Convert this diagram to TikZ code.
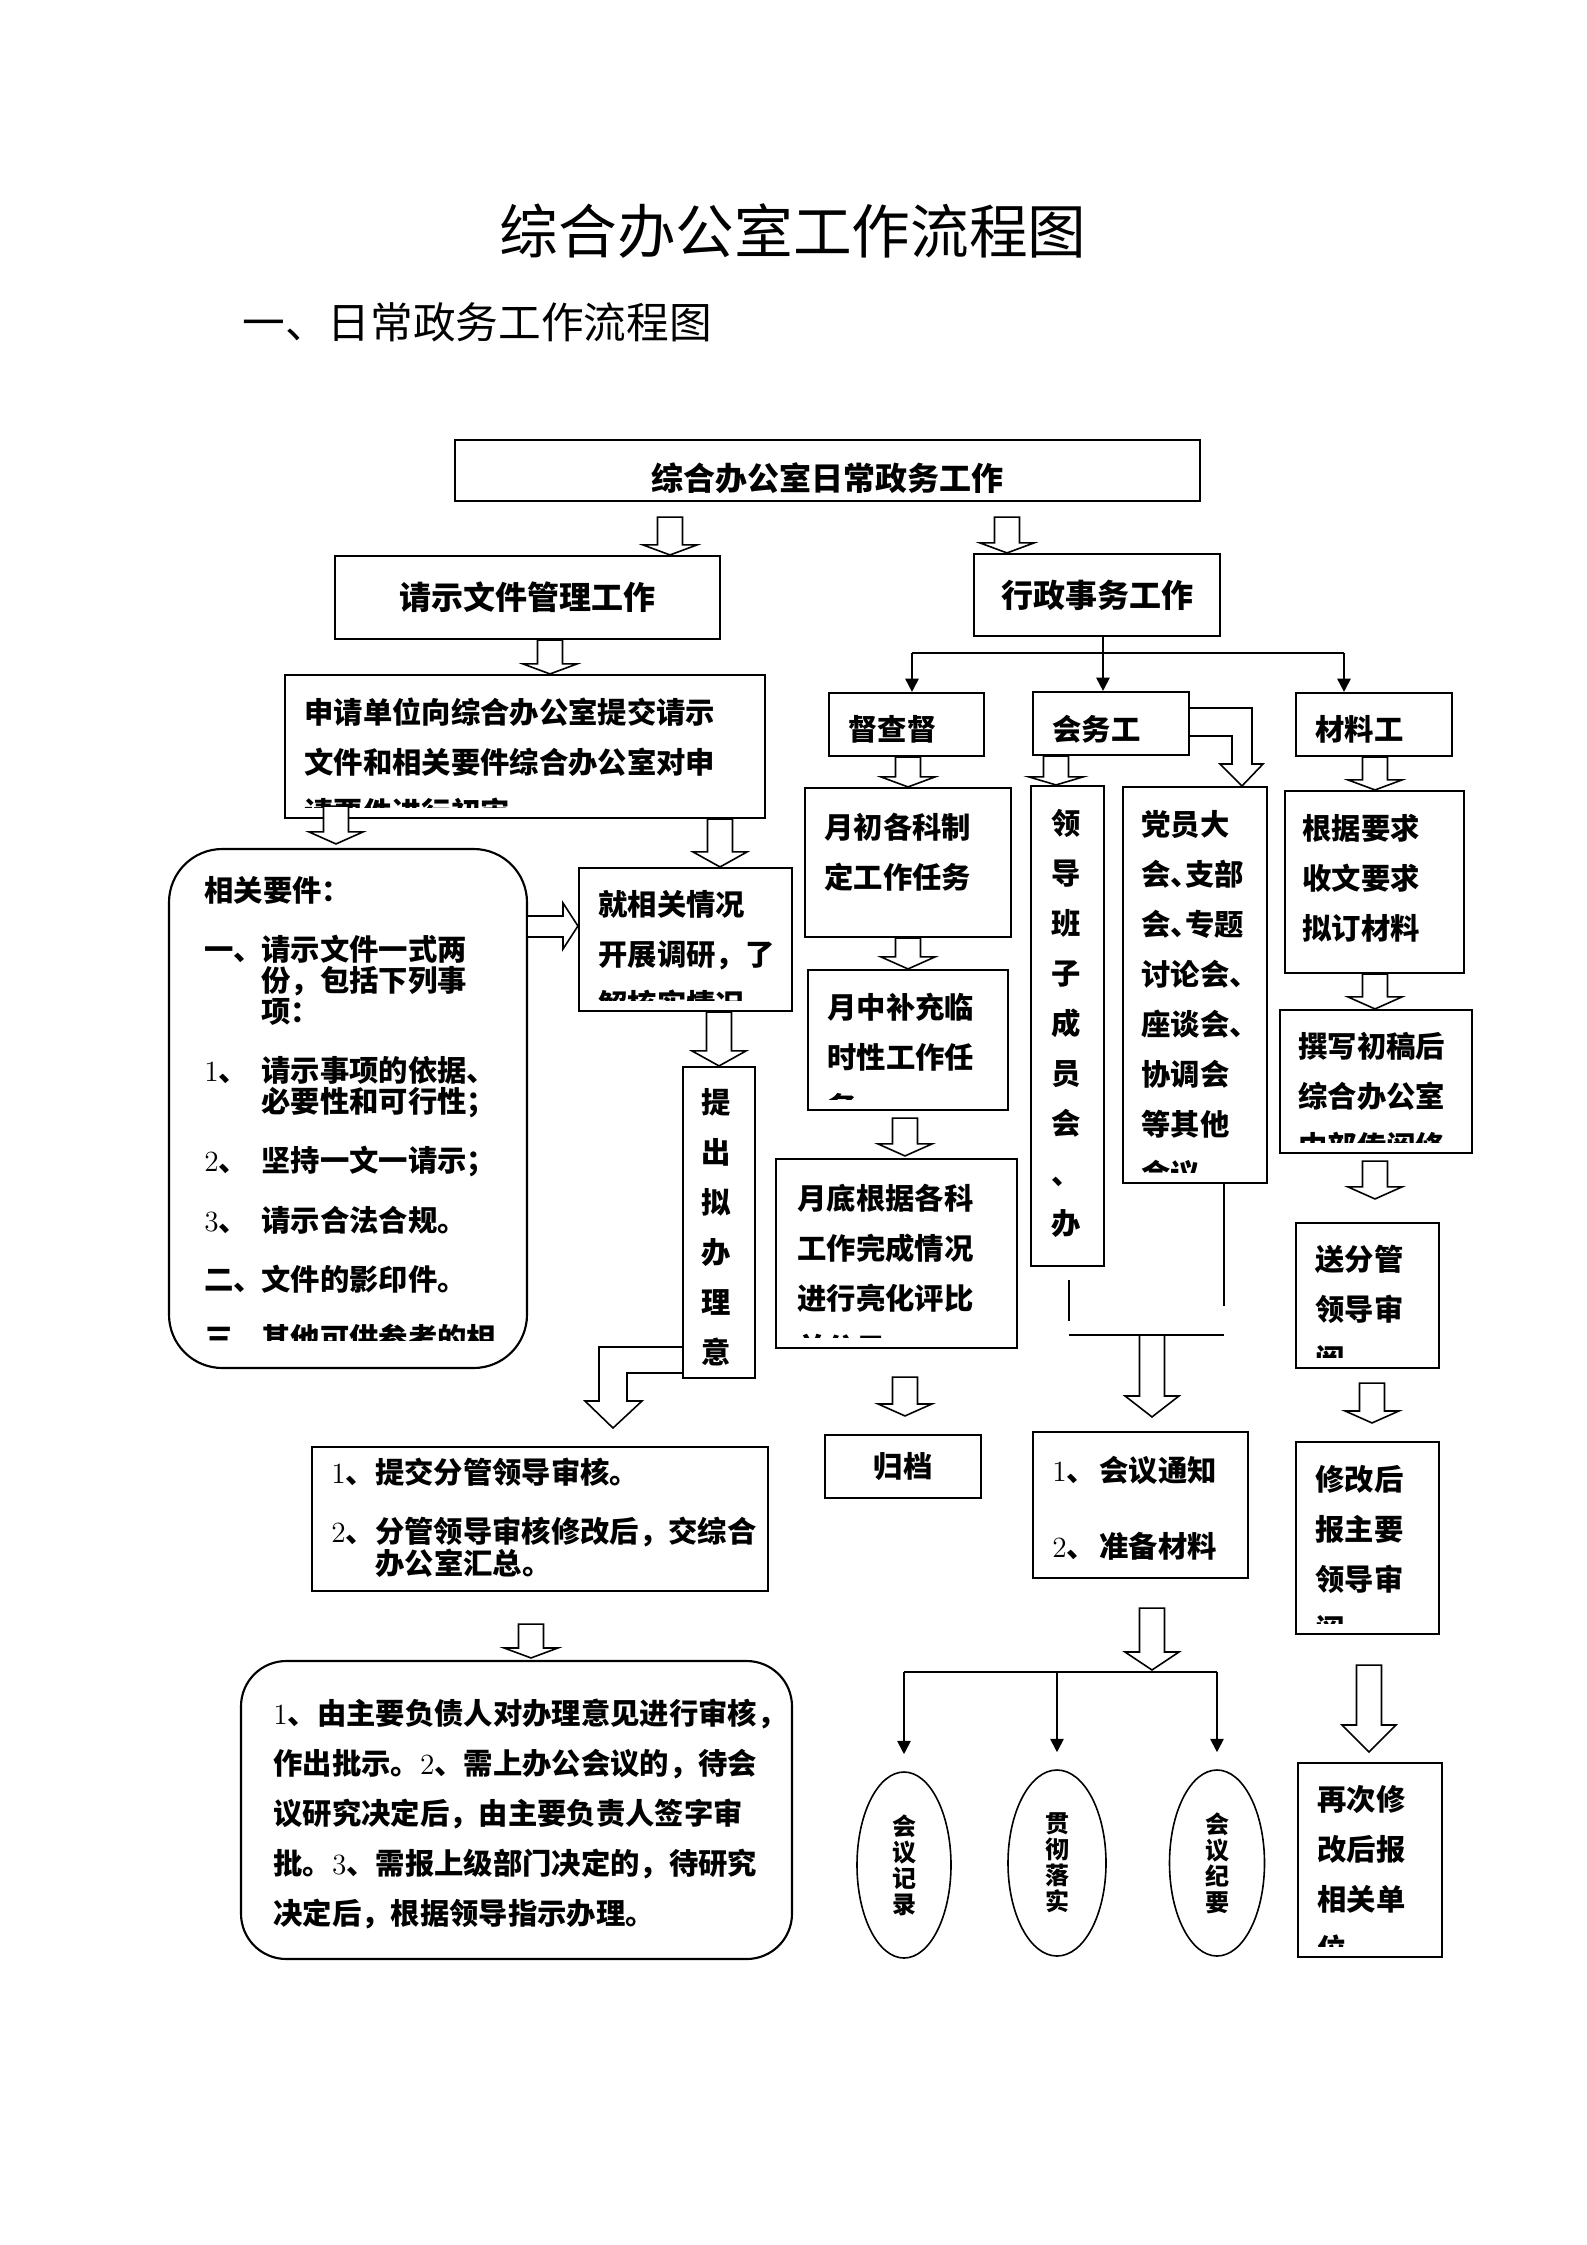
\documentclass[tikz,border=0pt]{standalone}
\usepackage{fontspec}
\newfontfamily\cjk{Noto Sans CJK SC}
\usetikzlibrary{arrows.meta,shapes.geometric,calc}

\newcommand\numtxt[1]{{\rmfamily\mdseries #1}}
\newcommand\halfdun{\makebox[0.5em][l]{、}}
% [node options]{box}{dx}{dy}{bottom inset}{text}
\newcommand\boxtext[6][]{%
  \begin{scope}
    \clip (#2.north west) rectangle ([yshift=#5*0.375pt]#2.south east);
    \node[txt,#1] (#2-t) at ([shift={(#3,#4)}]#2.north west) {#6};
  \end{scope}}
% {head}{x}{from}{dy}{to}{dy}
\newcommand\hollowarrow[6]{%
  \path (#2,0 |- #3) ++(0,#4) coordinate (ha-s) (#2,0 |- #5) ++(0,#6) coordinate (ha-e);
  \draw[hollow] ($(ha-s)+(-12.5,0)$) -- ($(ha-e)+(-12.5,-#1)$) -- ($(ha-e)+(-27,-#1)$) -- (ha-e)
    -- ($(ha-e)+(27,-#1)$) -- ($(ha-e)+(12.5,-#1)$) -- ($(ha-s)+(12.5,0)$) -- cycle;}

\tikzset{
  box/.style={draw, line width=0.8pt, inner sep=0pt},
  wh/.style 2 args={minimum width=#1*0.375pt, minimum height=#2*0.375pt},
  rbox/.style={box, rounded corners=20pt},
  headtxt/.style={font=\cjk\bfseries\fontsize{12}{14}\selectfont},
  txt/.style={anchor=north west, inner sep=0pt, align=left, font=\cjk\bfseries\fontsize{11}{18.75}\selectfont},
  vtxt/.style={anchor=north, align=center},
  ell/.style={draw, ellipse, line width=0.6pt, inner sep=0pt, align=center, font=\cjk\bfseries\fontsize{9}{9.75}\selectfont},
  hollow/.style={draw, fill=white, line width=0.6pt},
  conn/.style={line width=0.7pt},
  arrowline/.style={conn, -{Triangle[length=5pt,width=5pt]}},
}

\begin{document}
\begin{tikzpicture}[x=0.375pt,y=-0.375pt]
  \useasboundingbox (0,0) rectangle (1587,2245);
  \node[font=\cjk\fontsize{22}{26}\selectfont] (title) at (793,231) {综合办公室工作流程图};
  \node[font=\cjk\fontsize{16}{19}\selectfont, anchor=west] (sub) at (233,322) {一、日常政务工作流程图};

  % boxes
  \node[box, wh={745}{61}, headtxt, text height=16pt, text depth=1.3pt] (top) at (827.5,470.5) {综合办公室日常政务工作};
  \node[box, wh={385}{83}, headtxt] (b1) at (527.5,597.5) {请示文件管理工作};
  \node[box, wh={246}{82}, headtxt] (b2) at (1097,595) {行政事务工作};
  \node[box, wh={480}{143}] (c1) at (525,746.5) {};
  \node[rbox, wh={358}{519}] (d) at (348,1108.5) {};
  \node[box, wh={213}{143}] (e) at (685.5,939.5) {};
  \node[box, wh={72}{311}] (f) at (719,1222.5) {};
  \node[box, wh={456}{144}] (g) at (540,1519) {};
  \node[box, rounded corners=17pt, wh={551}{298}] (h) at (516.5,1810) {};
  \node[box, wh={155}{63}] (i1) at (906.5,724.5) {};
  \node[box, wh={156}{63}] (i2) at (1111,723.5) {};
  \node[box, wh={156}{63}] (i3) at (1374,724.5) {};
  \node[box, wh={206}{149}] (j1) at (908,862.5) {};
  \node[box, wh={200}{140}] (j2) at (908,1040) {};
  \node[box, wh={241}{189}] (j3) at (896.5,1253.5) {};
  \node[box, wh={156}{63}, font=\cjk\bfseries\fontsize{11}{13}\selectfont] (k1) at (903,1466.5) {归档};
  \node[box, wh={73}{480}] (l1) at (1067.5,1026) {};
  \node[box, wh={144}{396}] (l2) at (1195,985) {};
  \node[box, wh={215}{146}] (m) at (1140.5,1505) {};
  \node[box, wh={179}{182}] (p1) at (1374.5,882) {};
  \node[box, wh={192}{143}] (p2) at (1376,1081.5) {};
  \node[box, wh={143}{145}] (p3) at (1367.5,1295.5) {};
  \node[box, wh={143}{192}] (p4) at (1367.5,1538) {};
  \node[box, wh={144}{194}] (p5) at (1370,1860) {};
  \node[ell, minimum width=94*0.375pt, minimum height=186*0.375pt] (n1) at (904,1865) {会\\议\\记\\录};
  \node[ell, minimum width=98*0.375pt, minimum height=186*0.375pt] (n2) at (1057,1863) {贯\\彻\\落\\实};
  \node[ell, minimum width=95*0.375pt, minimum height=186*0.375pt] (n3) at (1217,1863) {会\\议\\纪\\要};

  % box texts
  \boxtext{c1}{20}{23}{12}{申请单位向综合办公室提交请示\\文件和相关要件综合办公室对申\\请要件进行初审}
  \boxtext[font=\cjk\bfseries\fontsize{11}{11.6}\selectfont]{d}{36}{28}{29}{相关要件：\\[10.6pt]
    \makebox[21.4pt][l]{一、}请示文件一式两\\
    \hspace*{21.4pt}份，包括下列事\\
    \hspace*{21.4pt}项：\\[10.6pt]
    \makebox[21.4pt][l]{\numtxt{1}、}请示事项的依据、\\
    \hspace*{21.4pt}必要性和可行性；\\[10.6pt]
    \makebox[21.4pt][l]{\numtxt{2}、}坚持一文一请示；\\[10.6pt]
    \makebox[21.4pt][l]{\numtxt{3}、}请示合法合规。\\[10.6pt]
    \makebox[21.4pt][l]{二、}文件的影印件。\\[10.6pt]
    \makebox[21.4pt][l]{三、}其他可供参考的相\\
    \hspace*{21.4pt}关材料。}
  \boxtext{e}{20}{23}{12}{就相关情况\\开展调研，了\\解核实情况}
  \boxtext[vtxt]{f}{34}{22}{12}{提\\出\\拟\\办\\理\\意\\见}
  \boxtext[font=\cjk\bfseries\fontsize{11}{11.25}\selectfont]{g}{20}{11}{12}{\numtxt{1}、提交分管领导审核。\\[10.9pt]
    \numtxt{2}、分管领导审核修改后，交综合\\
    \hspace*{16.5pt}办公室汇总。}
  \boxtext{h}{33}{38}{12}{\numtxt{1}、由主要负债人对办理意见进行审核，\\作出批示。\numtxt{2}、需上办公会议的，待会\\议研究决定后，由主要负责人签字审\\批。\numtxt{3}、需报上级部门决定的，待研究\\决定后，根据领导指示办理。}
  \boxtext{i1}{20}{23}{6}{督查督}
  \boxtext{i2}{20}{24}{6}{会务工}
  \boxtext{i3}{20}{23}{6}{材料工}
  \boxtext{j1}{20}{26}{12}{月初各科制\\定工作任务}
  \boxtext{j2}{20}{24}{12}{月中补充临\\时性工作任\\务}
  \boxtext{j3}{22}{26}{12}{月底根据各科\\工作完成情况\\进行亮化评比\\并公示}
  \boxtext[vtxt]{l1}{36}{24}{12}{领\\导\\班\\子\\成\\员\\会\\、\\办\\公\\会}
  \boxtext{l2}{19}{24}{12}{党员大\\会\halfdun 支部\\会\halfdun 专题\\讨论会、\\座谈会、\\协调会\\等其他\\会议}
  \boxtext[font=\cjk\bfseries\fontsize{11}{28.5}\selectfont]{m}{20}{25}{12}{\makebox[17.6pt][l]{\numtxt{1}、}会议通知\\\makebox[17.6pt][l]{\numtxt{2}、}准备材料}
  \boxtext{p1}{18}{24}{12}{根据要求\\收文要求\\拟订材料}
  \boxtext{p2}{19}{23}{12}{撰写初稿后\\综合办公室\\内部传阅修\\改}
  \boxtext{p3}{20}{23}{12}{送分管\\领导审\\阅}
  \boxtext{p4}{20}{24}{12}{修改后\\报主要\\领导审\\阅}
  \boxtext{p5}{20}{23}{12}{再次修\\改后报\\相关单\\位}

  % thin connectors
  \coordinate (bfork) at (1103,653);
  \coordinate (forkl) at (912,653);
  \coordinate (forkr) at (1344,653);
  \draw[conn] (bfork |- b2.south) -- (bfork);
  \draw[conn] (forkl) -- (forkr);
  \draw[arrowline] (forkl) -- (forkl |- i1.north);
  \draw[arrowline] (bfork) -- (bfork |- i2.north);
  \draw[arrowline] (forkr) -- (forkr |- i3.north);
  \coordinate (mergel) at (1069,1335);
  \coordinate (merger) at (1224,1335);
  \draw[conn] ([yshift=-13*0.375pt]mergel |- l1.south) -- ([yshift=14*0.375pt]mergel);
  \draw[conn] (merger |- l2.south) -- ([yshift=29*0.375pt]merger);
  \draw[conn] (mergel) -- (merger);
  \coordinate (mfork) at (1152,1672);
  \draw[conn] (n1.north |- mfork) -- (n3.north |- mfork);
  \foreach \nd in {n1,n2,n3}
    \draw[arrowline] (\nd.north |- mfork) -- ([yshift=17*0.375pt]\nd.north);

  % hollow arrows
  \hollowarrow{10}{670}{top.south}{15}{b1.north}{0}
  \hollowarrow{10}{1007}{top.south}{15}{b2.north}{0}
  \hollowarrow{10}{550}{b1.south}{0}{c1.north}{0}
  \hollowarrow{12}{336}{c1.south}{-13}{d.north}{-4}
  \hollowarrow{15}{720}{c1.south}{0}{e.north}{0}
  \hollowarrow{15}{719}{e.south}{0}{f.north}{0}
  \hollowarrow{10}{531}{g.south}{32}{h.north}{-2}
  \hollowarrow{10}{908}{i1.south}{0}{j1.north}{0}
  \hollowarrow{12}{908}{j1.south}{0}{j2.north}{0}
  \hollowarrow{12}{905}{j2.south}{7}{j3.north}{-2}
  \hollowarrow{12}{905}{j3.south}{28}{k1.north}{-18}
  \hollowarrow{8}{1056}{i2.south}{0}{l1.north}{0}
  \hollowarrow{21}{1152}{mergel}{0}{m.north}{-14}
  \hollowarrow{18}{1152}{m.south}{29}{mfork}{-2}
  \hollowarrow{10}{1375}{i3.south}{0}{p1.north}{0}
  \hollowarrow{12}{1375}{p1.south}{0}{p2.north}{0}
  \hollowarrow{12}{1375}{p2.south}{7}{p3.north}{-23}
  \hollowarrow{12}{1372}{p3.south}{14}{p4.north}{-18}
  \hollowarrow{27}{1369}{p4.south}{30}{p5.north}{-10}
  \draw[hollow] (d.east |- 0,916) -- (563,916) -- (563,903) -- (e.west |- 0,926)
    -- (563,949) -- (563,937) -- (d.east |- 0,937);
  \draw[hollow] (f.west |- 0,1347) -- (599,1347) -- (599,1401) -- (585,1401) -- (613,1428)
    -- (642,1401) -- (627,1401) -- (627,1373) -- (f.west |- 0,1373);
  \draw[hollow] (i2.east |- 0,708) -- (1252,708) -- (1252,764) -- (1263,764) -- (1242,0 |- l2.north)
    -- (1220,764) -- (1232,764) -- (1232,736) -- (i2.east |- 0,736);
\end{tikzpicture}
\end{document}
